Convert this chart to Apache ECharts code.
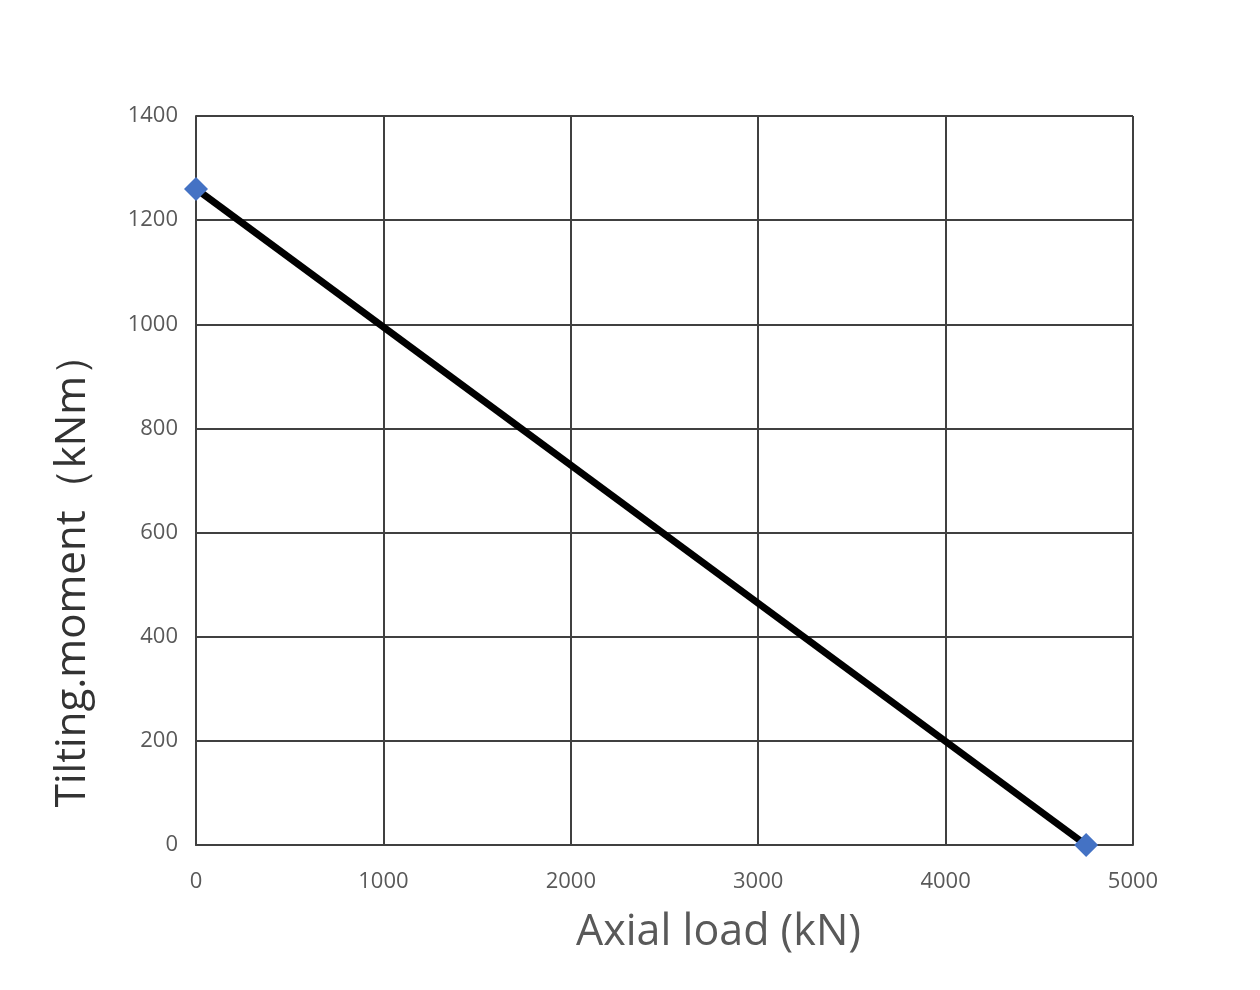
<!DOCTYPE html>
<html>
<head>
<meta charset="utf-8">
<script src="https://cdn.jsdelivr.net/npm/echarts@6/dist/echarts.min.js"></script>
<style>
  html, body { margin: 0; padding: 0; background: #fff; }
  #main { width: 1260px; height: 990px; }
</style>
</head>
<body>
<div id="main"></div>
<script>
// data
const axialLoad = [0, 4750];
const tiltingMoment = [1260, 0];
const xTicks = [0, 1000, 2000, 3000, 4000, 5000];
const yTicks = [0, 200, 400, 600, 800, 1000, 1200, 1400];

const chart = echarts.init(document.getElementById('main'));

const points = axialLoad.map((x, i) => [x, tiltingMoment[i]]);

const option = {
  backgroundColor: '#ffffff',
  animation: false,
  grid: { left: 196, right: 127, top: 116, bottom: 145 },
  xAxis: {
    type: 'value',
    min: xTicks[0],
    max: xTicks[xTicks.length - 1],
    interval: 1000,
    name: 'Axial load (kN)',
    nameLocation: 'middle',
    nameGap: 66,
    nameTextStyle: {
      fontFamily: 'Open Sans',
      fontSize: 43,
      color: '#595959',
      padding: [0, 0, 0, 108]
    },
    axisLine: { lineStyle: { color: '#404040', width: 2 } },
    axisTick: { show: false },
    axisLabel: {
      fontFamily: 'Open Sans', fontSize: 22, color: '#595959', margin: 26,
      formatter: v => String(v)
    },
    splitLine: { show: true, lineStyle: { color: '#404040', width: 2 } }
  },
  yAxis: {
    type: 'value',
    min: yTicks[0],
    max: yTicks[yTicks.length - 1],
    interval: 200,
    name: 'Tilting.moment（kNm）',
    nameLocation: 'middle',
    nameGap: 102,
    nameTextStyle: {
      fontFamily: 'Open Sans',
      fontSize: 42,
      color: '#333333',
      padding: [0, 180, 0, 0]
    },
    axisLine: { show: true, lineStyle: { color: '#404040', width: 2 } },
    axisTick: { show: false },
    axisLabel: {
      fontFamily: 'Open Sans', fontSize: 22, color: '#595959', margin: 18,
      formatter: v => String(v)
    },
    splitLine: { show: true, lineStyle: { color: '#404040', width: 2 } }
  },
  series: [{
    type: 'line',
    data: points,
    symbol: 'diamond',
    symbolSize: 24,
    itemStyle: { color: '#4472C4' },
    lineStyle: { color: '#000000', width: 7 },
    z: 5
  }]
};

chart.setOption(option);
</script>
</body>
</html>
